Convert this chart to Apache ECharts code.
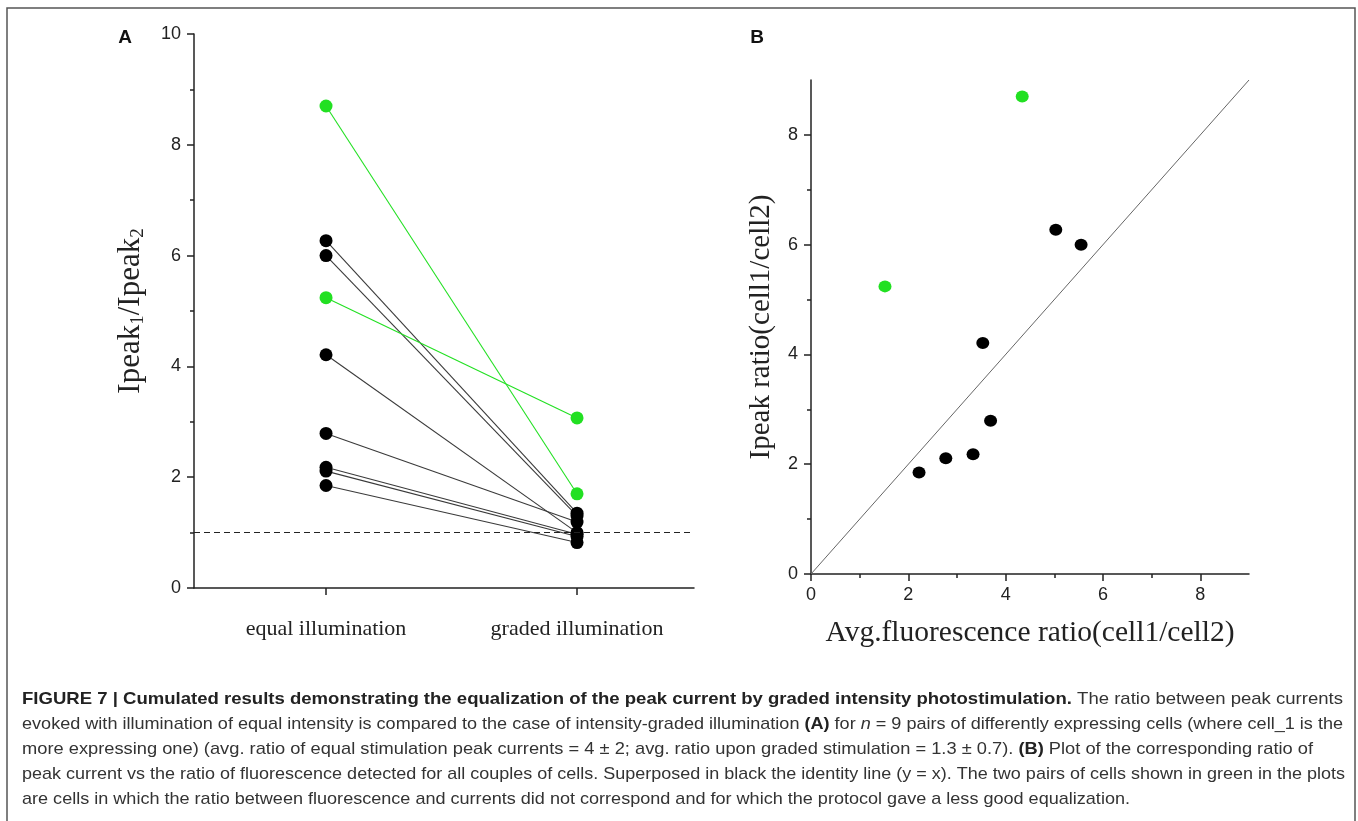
<!DOCTYPE html>
<html>
<head>
<meta charset="utf-8">
<script src="https://cdn.jsdelivr.net/npm/echarts@6/dist/echarts.min.js"></script>
<style>
html, body { margin: 0; padding: 0; background: #fff; }
#main { width: 1358px; height: 821px; }
</style>
</head>
<body>
<div id="main"></div>
<script type="text/javascript">
// panel A: two conditions, one line per cell pair
var categories = ['equal illumination', 'graded illumination'];
var equalBlack = [6.27, 6.00, 4.21, 2.79, 2.18, 2.11, 1.85];
var gradedBlack = [1.35, 1.30, 1.00, 1.19, 0.97, 0.93, 0.82];
var equalGreen = [8.70, 5.24];
var gradedGreen = [1.70, 3.07];
var refLevel = 1;

// panel B: ipeak ratio vs fluorescence ratio
var fluorBlack = [5.03, 5.55, 3.53, 3.69, 3.33, 2.77, 2.22];
var ipeakBlack = [6.27, 6.00, 4.21, 2.79, 2.18, 2.11, 1.85];
var fluorGreen = [4.34, 1.52];
var ipeakGreen = [8.70, 5.24];
var identityLine = [[0, 0], [9, 9]];
var majorTicksB = [0, 2, 4, 6, 8];

var GREEN = '#22e022';
var SERIF = '"Liberation Serif", "Times New Roman", serif';
var SANS = '"Liberation Sans", Arial, sans-serif';

// caption lines, as [style, text] pieces
var caption = [
  [['b', 'FIGURE 7 | Cumulated results demonstrating the equalization of the peak current by graded intensity photostimulation.'], ['n', ' The ratio between peak currents']],
  [['n', 'evoked with illumination of equal intensity is compared to the case of intensity-graded illumination '], ['b', '(A)'], ['n', ' for '], ['i', 'n'], ['n', ' = 9 pairs of differently expressing cells (where cell_1 is the']],
  [['n', 'more expressing one) (avg. ratio of equal stimulation peak currents = 4 ± 2; avg. ratio upon graded stimulation = 1.3 ± 0.7). '], ['b', '(B)'], ['n', ' Plot of the corresponding ratio of']],
  [['n', 'peak current vs the ratio of fluorescence detected for all couples of cells. Superposed in black the identity line (y = x). The two pairs of cells shown in green in the plots']],
  [['n', 'are cells in which the ratio between fluorescence and currents did not correspond and for which the protocol gave a less good equalization.']]
];
var captionEnds = [1343, 1343, 1313, 1345, 1130];
var CAP = 17;

var capFonts = {
  n: CAP + 'px "Liberation Sans"',
  b: 'bold ' + CAP + 'px "Liberation Sans"',
  i: 'italic ' + CAP + 'px "Liberation Sans"'
};
var ctx = document.createElement('canvas').getContext('2d');
function lineWidth(parts) {
  var w = 0;
  parts.forEach(function (p) {
    ctx.font = capFonts[p[0]];
    w += ctx.measureText(p[1]).width;
  });
  return w;
}

var graphics = [
  { type: 'rect', shape: { x: 7, y: 8, width: 1348, height: 830 }, style: { fill: 'none', stroke: '#555', lineWidth: 1.5 }, silent: true },
  { type: 'text', x: 125, y: 38, style: { text: 'A', font: 'bold 19px ' + SANS, fill: '#111', align: 'center', verticalAlign: 'middle' } },
  { type: 'text', x: 757, y: 38, style: { text: 'B', font: 'bold 19px ' + SANS, fill: '#111', align: 'center', verticalAlign: 'middle' } }
];
caption.forEach(function (parts, k) {
  var s = (captionEnds[k] - 22) / lineWidth(parts);
  var txt = parts.map(function (p) { return '{' + p[0] + '|' + p[1] + '}'; }).join('');
  graphics.push({
    type: 'text', x: 22, y: 699 + k * 25, scaleX: s,
    style: {
      text: txt, verticalAlign: 'middle',
      rich: {
        n: { fontFamily: SANS, fontSize: CAP, fill: '#333' },
        b: { fontFamily: SANS, fontSize: CAP, fontWeight: 'bold', fill: '#222' },
        i: { fontFamily: SANS, fontSize: CAP, fontStyle: 'italic', fill: '#333' }
      }
    }
  });
});

var series = [];
// dashed reference line at 1
series.push({
  type: 'line', xAxisIndex: 0, yAxisIndex: 0, data: [], silent: true,
  markLine: {
    silent: true, symbol: 'none', label: { show: false },
    lineStyle: { color: '#222', type: [6, 4], width: 1.2 },
    data: [{ yAxis: refLevel }]
  }
});
function pairSeries(a, b, color, lineColor) {
  for (var i = 0; i < a.length; i++) {
    series.push({
      type: 'line', xAxisIndex: 0, yAxisIndex: 0,
      data: [[0, a[i]], [1, b[i]]],
      symbol: 'circle', symbolSize: 13,
      itemStyle: { color: color, opacity: 1 },
      lineStyle: { color: lineColor, width: 1.1 },
      z: 3
    });
  }
}
pairSeries(equalBlack, gradedBlack, '#000', '#3a3a3a');
pairSeries(equalGreen, gradedGreen, GREEN, GREEN);

series.push({
  type: 'line', xAxisIndex: 1, yAxisIndex: 1, data: identityLine,
  symbol: 'none', lineStyle: { color: '#666', width: 1 }, silent: true
});
series.push({
  type: 'scatter', xAxisIndex: 1, yAxisIndex: 1,
  data: fluorBlack.map(function (v, i) { return [v, ipeakBlack[i]]; }),
  symbol: 'circle', symbolSize: [13, 12], itemStyle: { color: '#000', opacity: 1 }
});
series.push({
  type: 'scatter', xAxisIndex: 1, yAxisIndex: 1,
  data: fluorGreen.map(function (v, i) { return [v, ipeakGreen[i]]; }),
  symbol: 'circle', symbolSize: [13, 12], itemStyle: { color: GREEN, opacity: 1 }
});

var axisLineStyle = { color: '#222', width: 1.5 };
function evenOnly(v) { return v % 2 === 0 ? String(v) : ''; }

var option = {
  animation: false,
  backgroundColor: '#fff',
  grid: [
    { left: 194, top: 34, width: 500, height: 554 },
    { left: 811, top: 80, width: 438, height: 494 }
  ],
  xAxis: [
    {
      gridIndex: 0, type: 'value', position: 'bottom', min: -0.526, max: 1.466,
      splitLine: { show: false },
      axisLine: { onZero: false, lineStyle: axisLineStyle },
      axisTick: { customValues: [0, 1], length: 7, lineStyle: axisLineStyle },
      axisLabel: {
        customValues: [0, 1], margin: 30,
        formatter: function (v) { return categories[Math.round(v)]; },
        fontFamily: SERIF, fontSize: 22, color: '#222'
      }
    },
    {
      gridIndex: 1, type: 'value', position: 'bottom', min: 0, max: 9, interval: 1,
      splitLine: { show: false },
      axisLine: { onZero: false, lineStyle: axisLineStyle },
      axisTick: { length: 4, lineStyle: axisLineStyle },
      axisLabel: { formatter: evenOnly, showMaxLabel: false, margin: 12, fontFamily: SANS, fontSize: 18, color: '#222' },
      name: 'Avg.fluorescence ratio(cell1/cell2)', nameLocation: 'middle', nameGap: 44,
      nameTextStyle: { fontFamily: SERIF, fontSize: 29.5, color: '#222' }
    },
    {
      gridIndex: 1, type: 'value', position: 'bottom', min: 0, max: 9,
      splitLine: { show: false }, axisLine: { show: false, onZero: false }, axisLabel: { show: false },
      axisTick: { customValues: majorTicksB, length: 7, lineStyle: axisLineStyle }
    }
  ],
  yAxis: [
    {
      gridIndex: 0, type: 'value', position: 'left', min: 0, max: 10, interval: 2,
      splitLine: { show: false },
      axisLine: { show: true, onZero: false, lineStyle: axisLineStyle },
      axisTick: { show: true, length: 7, lineStyle: axisLineStyle },
      minorTick: { show: true, splitNumber: 2, length: 4, lineStyle: axisLineStyle },
      axisLabel: { margin: 13, fontFamily: SANS, fontSize: 18, color: '#222' },
      name: '{b|Ipeak}{s|1}{b|/Ipeak}{s|2}', nameLocation: 'middle', nameGap: 46,
      nameTextStyle: {
        rich: {
          b: { fontFamily: SERIF, fontSize: 31, color: '#222', lineHeight: 34 },
          s: { fontFamily: SERIF, fontSize: 19, color: '#222', lineHeight: 10, verticalAlign: 'bottom' }
        }
      }
    },
    {
      gridIndex: 1, type: 'value', position: 'left', min: 0, max: 9, interval: 1,
      splitLine: { show: false },
      axisLine: { show: true, onZero: false, lineStyle: axisLineStyle },
      axisTick: { show: true, length: 4, lineStyle: axisLineStyle },
      axisLabel: { formatter: evenOnly, showMaxLabel: false, margin: 13, fontFamily: SANS, fontSize: 18, color: '#222' },
      name: 'Ipeak ratio(cell1/cell2)', nameLocation: 'middle', nameGap: 35,
      nameTextStyle: { fontFamily: SERIF, fontSize: 29, color: '#222' }
    },
    {
      gridIndex: 1, type: 'value', position: 'left', offset: 0, min: 0, max: 9,
      splitLine: { show: false }, axisLine: { show: false, onZero: false }, axisLabel: { show: false },
      axisTick: { show: true, customValues: majorTicksB, length: 7, lineStyle: axisLineStyle }
    }
  ],
  series: series,
  graphic: graphics
};

var myChart = echarts.init(document.getElementById('main'));
myChart.setOption(option);
</script>
</body>
</html>
